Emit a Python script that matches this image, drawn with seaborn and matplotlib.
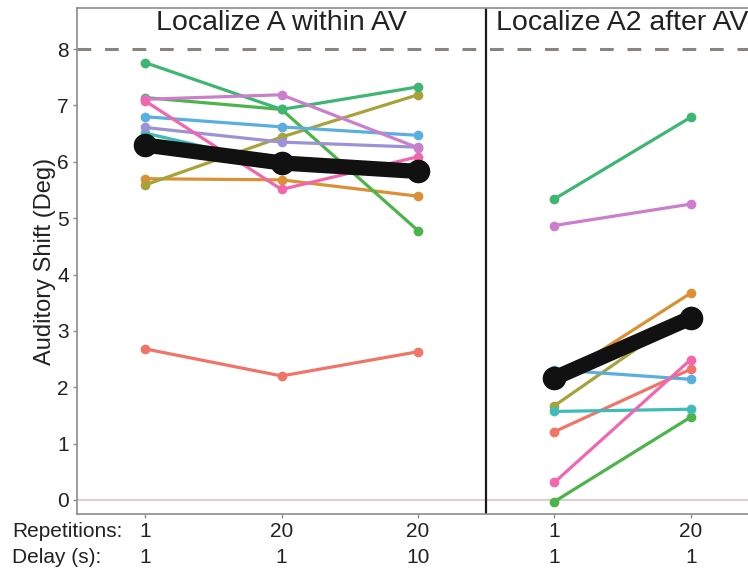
import numpy as np
import pandas as pd
import seaborn as sns
import matplotlib.pyplot as plt

# subjects in colour order (ggplot-like hue palette, slightly muted as in the figure)
subjects = ['S1', 'S2', 'S3', 'S4', 'S5', 'S6', 'S7', 'S8', 'S9', 'S10']
colors = ['#F07468', '#DB9133', '#A8A23A', '#4BB54A', '#3DB672',
          '#3EBCB8', '#5BAEE0', '#9D92D6', '#CB7ECB', '#F266AE']

# auditory shift (deg) per subject and condition
within_rep1 = [2.68, 5.70, 5.59, 7.14, 7.76, 6.51, 6.80, 6.61, 7.11, 7.08]
within_rep20 = [2.20, 5.68, 6.44, 6.93, 6.93, 5.95, 6.62, 6.35, 7.19, 5.51]
within_rep20_delay10 = [2.63, 5.39, 7.19, 4.78, 7.33, 5.91, 6.47, 6.26, 6.25, 6.09]
after_rep1 = [1.21, 2.12, 1.67, -0.03, 5.34, 1.57, 2.31, 2.25, 4.87, 0.31]
after_rep20 = [2.32, 3.67, 3.35, 1.47, 6.79, 1.61, 2.14, 3.21, 5.25, 2.49]

repetitions = ['1', '20', '20', '1', '20']
delays = ['1', '1', '10', '1', '1']
panel_titles = ['Localize A within AV', 'Localize A2 after AV']

conditions = [within_rep1, within_rep20, within_rep20_delay10, after_rep1, after_rep20]
panel_of = ['within', 'within', 'within', 'after', 'after']

rows = []
for pos, vals in enumerate(conditions):
    for s, v in zip(subjects, vals):
        rows.append({'subject': s, 'pos': pos, 'shift': v, 'panel': panel_of[pos]})
df = pd.DataFrame(rows)

sns.set_style('ticks')
plt.rcParams['font.family'] = ['Liberation Sans', 'DejaVu Sans']

fig = plt.figure(figsize=(7.48, 5.72), dpi=100)
ax = fig.add_axes([77 / 748, 58 / 572, 671 / 748, 506 / 572])

# reference lines
ax.axhline(0, color='#d9d0cf', lw=1.5, zorder=1)
ax.axhline(8, color='#8a8480', lw=2.2, dashes=(4.5, 4.5), zorder=1)
ax.axvline(2.5, color='#1a1a1a', lw=1.6, zorder=1)

# individual subjects
sns.lineplot(data=df, x='pos', y='shift', hue='subject', units='panel',
             estimator=None, palette=colors, hue_order=subjects,
             marker='o', markersize=7, markeredgewidth=0, linewidth=2.3,
             legend=False, ax=ax, zorder=3)

# group mean per panel
for p in ['within', 'after']:
    sns.lineplot(data=df[df['panel'] == p], x='pos', y='shift',
                 estimator='mean', errorbar=None, color='#111111',
                 marker='o', markersize=17, markeredgewidth=0, linewidth=11,
                 ax=ax, zorder=5)

# panel titles
ax.text(1, 8.46, panel_titles[0], ha='center', va='center', fontsize=20.5, color='#222222')
ax.text(3.5, 8.46, panel_titles[1], ha='center', va='center', fontsize=20.5, color='#222222')

ax.set_xlim(-0.5, 4.42)
ax.set_ylim(-0.25, 8.73)
ax.set_yticks(range(0, 9))
ax.set_xticks(range(5))
ax.set_xticklabels([f'{r}\n{d}' for r, d in zip(repetitions, delays)], linespacing=1.45)
ax.set_xlabel('')
ax.set_ylabel('Auditory Shift (Deg)', fontsize=17, color='#222222', labelpad=1)

for side in ['left', 'bottom', 'top']:
    ax.spines[side].set_color('#8c8c8c')
    ax.spines[side].set_linewidth(1.2)
ax.spines['right'].set_visible(False)
ax.tick_params(axis='both', colors='#8c8c8c', length=3, width=1, pad=3,
               labelsize=15, labelcolor='#222222')

# row headers for the two-line tick labels
ax.annotate('Repetitions:\nDelay (s):', xy=(12 / 748, 0),
            xycoords=('figure fraction', 'axes fraction'),
            xytext=(0, -6), textcoords='offset points',
            ha='left', va='top', fontsize=15, color='#222222', linespacing=1.45)

fig.savefig('out.png', dpi=100)
